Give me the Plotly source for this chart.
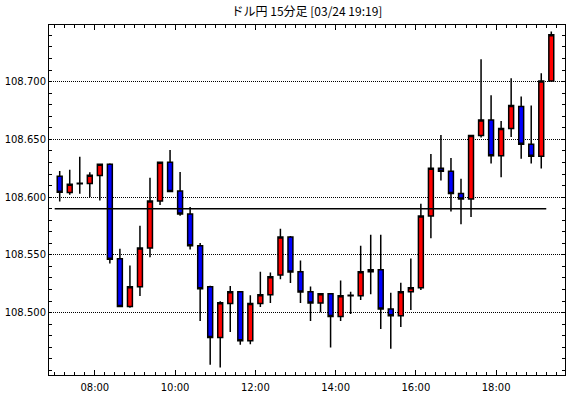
import pandas as pd
import plotly.graph_objects as go

title_text = "ドル円 15分足 [03/24 19:19]"
session_date = "2020-03-24"
first_bar = "07:00"
bar_minutes = 15

opens = [108.6180, 108.6040, 108.6115, 108.6118, 108.6187, 108.6284, 108.5466, 108.5052, 108.5224, 108.5560,
         108.5966, 108.6302, 108.6052, 108.5853, 108.5578, 108.5224, 108.4784, 108.5078, 108.5181, 108.4756,
         108.5078, 108.5155, 108.5325, 108.5655, 108.5353, 108.5181, 108.5083, 108.5164, 108.4966, 108.5147,
         108.5147, 108.5353, 108.5371, 108.5032, 108.4974, 108.5181, 108.5216, 108.5836, 108.6250, 108.6224,
         108.6032, 108.5983, 108.6534, 108.6667, 108.6359, 108.6595, 108.6784, 108.6457, 108.6353, 108.7006]
highs = [108.6227, 108.6236, 108.6350, 108.6216, 108.6290, 108.6293, 108.5552, 108.5408, 108.5753, 108.6167,
         108.6302, 108.6408, 108.6218, 108.5914, 108.5603, 108.5233, 108.5098, 108.5230, 108.5181, 108.5150,
         108.5353, 108.5348, 108.5727, 108.5664, 108.5451, 108.5227, 108.5164, 108.5164, 108.5279, 108.5181,
         108.5580, 108.5675, 108.5675, 108.5172, 108.5259, 108.5468, 108.5943, 108.6374, 108.6537, 108.6339,
         108.6158, 108.6534, 108.7193, 108.6882, 108.6658, 108.7029, 108.6871, 108.6793, 108.7072, 108.7434]
lows = [108.5963, 108.6020, 108.6030, 108.6000, 108.5970, 108.5425, 108.5046, 108.5043, 108.5144, 108.5480,
        108.5931, 108.6049, 108.5839, 108.5546, 108.4928, 108.4549, 108.4526, 108.4833, 108.4721, 108.4727,
        108.5049, 108.5083, 108.5290, 108.5256, 108.5083, 108.4928, 108.5003, 108.4698, 108.4928, 108.4989,
        108.5109, 108.5158, 108.4859, 108.4687, 108.4876, 108.5023, 108.5195, 108.5644, 108.6144, 108.5876,
        108.5764, 108.5828, 108.6517, 108.6290, 108.6172, 108.6520, 108.6333, 108.6290, 108.6247, 108.7006]
closes = [108.6043, 108.6112, 108.6120, 108.6190, 108.6284, 108.5463, 108.5052, 108.5224, 108.5560, 108.5966,
          108.6302, 108.6049, 108.5853, 108.5578, 108.5207, 108.4784, 108.5086, 108.5181, 108.4756, 108.5078,
          108.5155, 108.5310, 108.5655, 108.5351, 108.5178, 108.5083, 108.5164, 108.4966, 108.5147, 108.5150,
          108.5353, 108.5371, 108.5032, 108.4974, 108.5181, 108.5216, 108.5836, 108.6250, 108.6224, 108.6032,
          108.5983, 108.6534, 108.6667, 108.6359, 108.6595, 108.6793, 108.6457, 108.6353, 108.7006, 108.7405]
ref_level = 108.590
price_ticks = [108.500, 108.550, 108.600, 108.650, 108.700]

y_range = [108.446, 108.749]
x_range = ["2020-03-24 06:51:30", "2020-03-24 19:43:00"]

starts = pd.date_range(f"{session_date} {first_bar}", periods=len(opens), freq=f"{bar_minutes}min")
centers = starts + pd.Timedelta(minutes=bar_minutes / 2)

fig = go.Figure()
fig.add_trace(go.Scatter(
    x=[starts[0], starts[-1]], y=[ref_level, ref_level], mode="lines",
    line=dict(color="black", width=1.5), hoverinfo="skip", showlegend=False))
fig.add_trace(go.Candlestick(
    x=centers, open=opens, high=highs, low=lows, close=closes,
    increasing=dict(fillcolor="#ff0000", line=dict(color="black", width=1.5)),
    decreasing=dict(fillcolor="#0000ff", line=dict(color="black", width=1.5)),
    whiskerwidth=0, showlegend=False))

fig.update_layout(
    width=570, height=398,
    margin=dict(l=49, r=5, t=25, b=23),
    paper_bgcolor="white", plot_bgcolor="white",
    font=dict(family="DejaVu Sans", size=10, color="black"),
    title=dict(text=title_text, x=0.5, xref="paper", y=1 - 12 / 398, yanchor="middle",
               font=dict(family="Noto Sans CJK JP", size=12, color="black"), automargin=False),
    showlegend=False,
)
fig.update_xaxes(
    type="date", range=x_range, rangeslider_visible=False, automargin=False,
    showline=True, linecolor="black", linewidth=1, mirror="ticks",
    ticks="inside", ticklen=5, tickcolor="black", ticklabelstandoff=3,
    dtick=2 * 3600 * 1000, tick0=f"{session_date} 00:00", tickformat="%H:%M",
    minor=dict(dtick=15 * 60 * 1000, tick0=f"{session_date} 00:00", ticks="inside", ticklen=3,
               tickcolor="black", showgrid=False),
    showgrid=False, zeroline=False,
)
fig.update_yaxes(
    range=y_range, automargin=False,
    showline=True, linecolor="black", linewidth=1, mirror="ticks",
    ticks="inside", ticklen=3, tickcolor="black",
    tickmode="array", tickvals=price_ticks, ticktext=[f"{v:.3f}" for v in price_ticks],
    showgrid=True, gridcolor="black", gridwidth=1, griddash="1px,1px",
    minor=dict(dtick=0.01, tick0=108.5, ticks="inside", ticklen=3, tickcolor="black", showgrid=False),
    zeroline=False,
)

fig.write_html(
    "out.html",
    config={"displayModeBar": False},
    post_script="document.body.style.margin='0';document.body.style.overflow='hidden';",
)
